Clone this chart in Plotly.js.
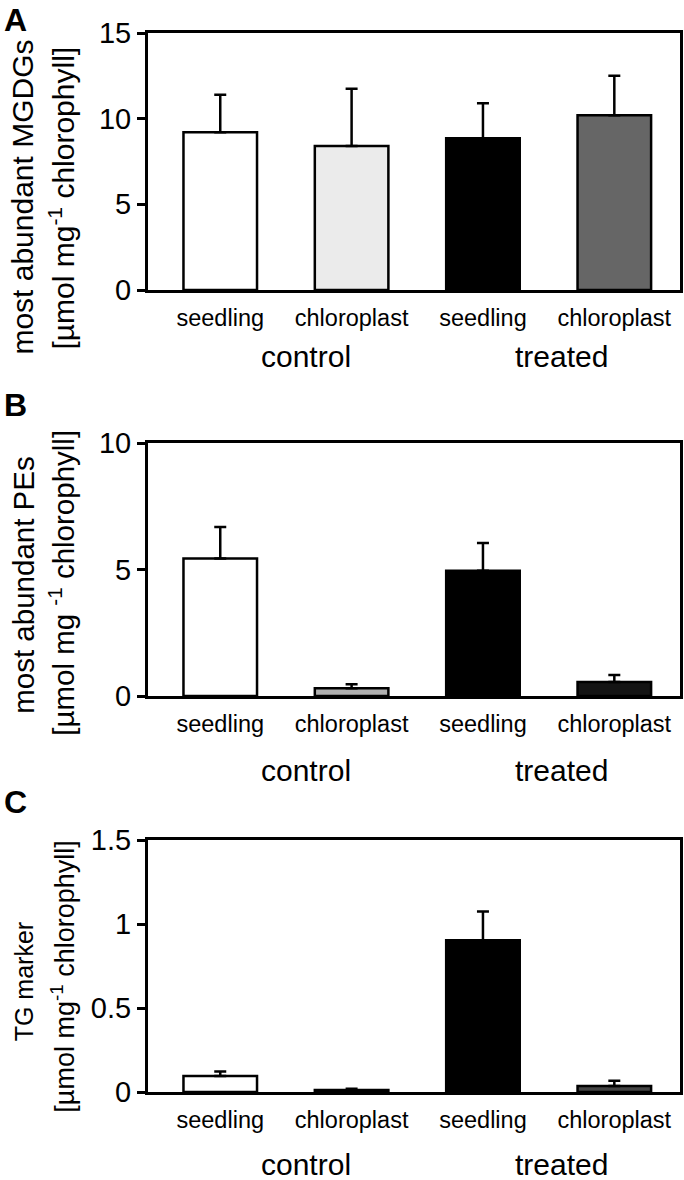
<!DOCTYPE html>
<html>
<head>
<meta charset="utf-8">
<script src="https://cdn.plot.ly/plotly-3.0.1.min.js"></script>
<style>html,body{margin:0;padding:0;background:#fff;}#chart{width:684px;height:1180px;}</style>
</head>
<body>
<div id="chart"></div>
<script>
// ---- data ----
const categories = ["control seedling", "control chloroplast", "treated seedling", "treated chloroplast"];
const tickLabels = ["seedling", "chloroplast", "seedling", "chloroplast"];
const groupLabels = ["control", "treated"];

const mgdgMean = [9.2, 8.4, 8.85, 10.2];
const mgdgErr  = [2.2, 3.35, 2.05, 2.3];

const peMean = [5.43, 0.31, 4.95, 0.55];
const peErr  = [1.25, 0.15, 1.10, 0.28];

const tgMean = [0.095, 0.012, 0.904, 0.036];
const tgErr  = [0.027, 0.008, 0.170, 0.031];

const panelTitles = [
  ["most abundant MGDGs", "[µmol mg<sup>-1</sup> chlorophyll]"],
  ["most abundant PEs", "[µmol mg <sup>-1</sup> chlorophyll]"],
  ["TG marker", "[µmol mg<sup>-1</sup> chlorophyll]"]
];
const panelLetters = ["A", "B", "C"];
const yRanges = [[0, 15], [0, 10], [0, 1.5]];
const yDticks = [5, 5, 0.5];

// ---- styling ----
const FONT = "Liberation Sans, Arial, sans-serif";
const W = 684, H = 1180;
const px = v => v / W;
const py = v => 1 - v / H;
const colorsByPanel = [
  ["#ffffff", "#ebebeb", "#000000", "#666666"],
  ["#ffffff", "#b0b0b0", "#000000", "#141414"],
  ["#ffffff", "#b0b0b0", "#000000", "#444444"]
];
// pixel geometry of each panel: [top, bottom(zero line)]
const panelPx = [[33, 290], [443, 696], [840, 1092]];
const letterPx = [20, 405, 802];
const groupPx = [357, 770, 1164];
const titleCenterPx = [[197, 198], [585, 583], [982, 977]];
const titleSize = [[30, 30], [29.5, 29.5], [25, 27]];
const xDom = [px(148), px(680)];
const xRange = [-0.55, 3.5];

const means = [mgdgMean, peMean, tgMean];
const errs = [mgdgErr, peErr, tgErr];

const traces = [];
const layout = {
  width: W, height: H,
  margin: {l: 0, r: 0, t: 0, b: 0},
  paper_bgcolor: "#ffffff", plot_bgcolor: "#ffffff",
  showlegend: false,
  bargap: 0.44,
  font: {family: FONT, color: "#000"},
  annotations: []
};

for (let i = 0; i < 3; i++) {
  const n = i === 0 ? "" : String(i + 1);
  const tn = String(i + 4);
  traces.push({
    type: "bar",
    x: categories,
    y: means[i],
    xaxis: "x" + n, yaxis: "y" + n,
    marker: {color: colorsByPanel[i], line: {color: "#000", width: 2.5}},
    error_y: {type: "data", symmetric: false, array: errs[i], arrayminus: errs[i].map(() => 0),
              color: "#000", thickness: 2.5, width: 6},
    hoverinfo: "skip"
  });
  const [top, bot] = panelPx[i];
  layout["xaxis" + n] = {
    domain: xDom, anchor: "y" + n, type: "category",
    range: xRange,
    tickvals: categories, ticktext: tickLabels, ticks: "",
    tickfont: {size: 23.5, family: FONT, color: "#000"},
    ticklabelstandoff: 5,
    showline: true, linewidth: 3, linecolor: "#000", mirror: true,
    showgrid: false, zeroline: false, fixedrange: true
  };
  layout["xaxis" + tn] = {
    domain: xDom, anchor: "y" + n, overlaying: "x" + n,
    type: "linear", range: xRange,
    tickvals: [xRange[0], 1.5, xRange[1]], ticks: "outside", ticklen: 9, tickwidth: 3, tickcolor: "#000",
    showticklabels: false, showline: false, showgrid: false, zeroline: false
  };
  layout["yaxis" + n] = {
    domain: [py(bot), py(top)], anchor: "x" + n,
    range: yRanges[i], dtick: yDticks[i], tick0: 0,
    ticks: "outside", ticklen: 8, tickwidth: 3, tickcolor: "#000",
    tickfont: {size: 29, family: FONT, color: "#000"},
    showline: true, linewidth: 3, linecolor: "#000", mirror: true,
    showgrid: false, zeroline: false, fixedrange: true
  };
  // rotated titles: box centre sits ~0.35em left of the baseline
  const baselines = [33, 72];
  for (let l = 0; l < 2; l++) {
    const fs = titleSize[i][l];
    layout.annotations.push({
      text: panelTitles[i][l], xref: "paper", yref: "paper",
      x: px(baselines[l] - 0.3465 * fs), y: py(titleCenterPx[i][l]),
      xanchor: "center", yanchor: "middle",
      textangle: -90, showarrow: false, font: {size: fs, family: FONT, color: "#000"}
    });
  }
  layout.annotations.push(
    {text: "<b>" + panelLetters[i] + "</b>", xref: "paper", yref: "paper", x: px(2), y: py(letterPx[i]),
     xanchor: "left", yanchor: "middle", showarrow: false, font: {size: 32, family: FONT, color: "#000"}}
  );
  groupLabels.forEach((g, k) => {
    layout.annotations.push({
      text: g, xref: "x" + n, yref: "paper", x: k === 0 ? 0.65 : 2.6, y: py(groupPx[i]),
      xanchor: "center", yanchor: "middle", showarrow: false, font: {size: 30, family: FONT, color: "#000"}
    });
  });
}

Plotly.newPlot("chart", traces, layout, {staticPlot: true});
</script>
</body>
</html>
